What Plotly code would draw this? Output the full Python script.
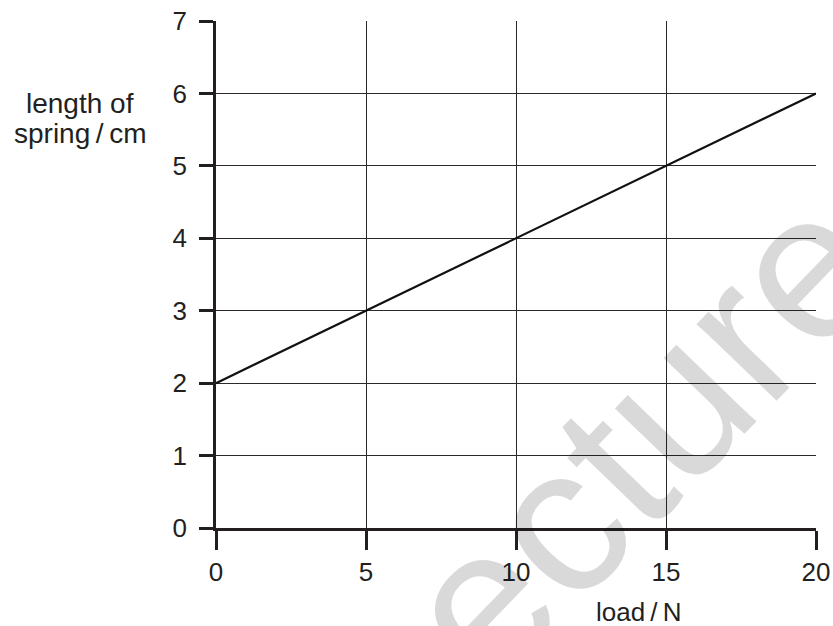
import plotly.graph_objects as go

load_N = [0, 20]
length_cm = [2, 6]
x_ticks = [0, 5, 10, 15, 20]
y_ticks = [0, 1, 2, 3, 4, 5, 6, 7]

W, H = 833, 626
L, R, T, B = 216, 17, 21, 98
PW, PH = W - L - R, H - T - B


def px(x):
    return (x - L) / PW


def py(y):
    return (H - B - y) / PH


fig = go.Figure()
fig.add_trace(go.Scatter(x=load_N, y=length_cm, mode="lines",
                         line=dict(color="#111", width=2.2), showlegend=False,
                         hoverinfo="skip"))

ink = "#231f20"
fam = "Liberation Sans, Arial, sans-serif"
font = dict(family=fam, size=26, color=ink)
tfont = dict(family=fam, size=28, color=ink)

axis_common = dict(ticks="outside", tickwidth=2.5, tickcolor=ink,
                   showline=True, linewidth=2.5, linecolor=ink, showgrid=True,
                   gridcolor="#2a2a2a", gridwidth=1, zeroline=False, tickfont=font,
                   automargin=False)

fig.update_layout(
    width=W, height=H,
    margin=dict(l=L, r=R, t=T, b=B),
    paper_bgcolor="white", plot_bgcolor="white",
    font=font,
    xaxis=dict(range=[0, 20], tickvals=x_ticks, ticklen=19, **axis_common),
    yaxis=dict(range=[0, 7], tickvals=y_ticks, ticklen=14,
               ticklabelstandoff=7, **axis_common),
)

# watermark
fig.add_annotation(text="ecture", xref="paper", yref="paper",
                   x=px(641), y=py(436),
                   showarrow=False, textangle=-46,
                   font=dict(family=fam, size=210, color="rgba(0,0,0,0.15)"),
                   xanchor="center", yanchor="middle")

fig.add_annotation(text="length of", xref="paper", yref="paper",
                   x=px(80), y=py(103), showarrow=False, font=tfont,
                   xanchor="center", yanchor="middle")
fig.add_annotation(text="spring\u2009/\u2009cm", xref="paper", yref="paper",
                   x=px(80), y=py(133), showarrow=False, font=tfont,
                   xanchor="center", yanchor="middle")
fig.add_annotation(text="load\u2009/\u2009N", xref="paper", yref="paper",
                   x=px(639), y=py(612),
                   showarrow=False, font=font, xanchor="center", yanchor="middle")

fig.write_html("out.html", config={"displayModeBar": False},
               post_script="document.body.style.margin='0';document.body.style.overflow='hidden';")
